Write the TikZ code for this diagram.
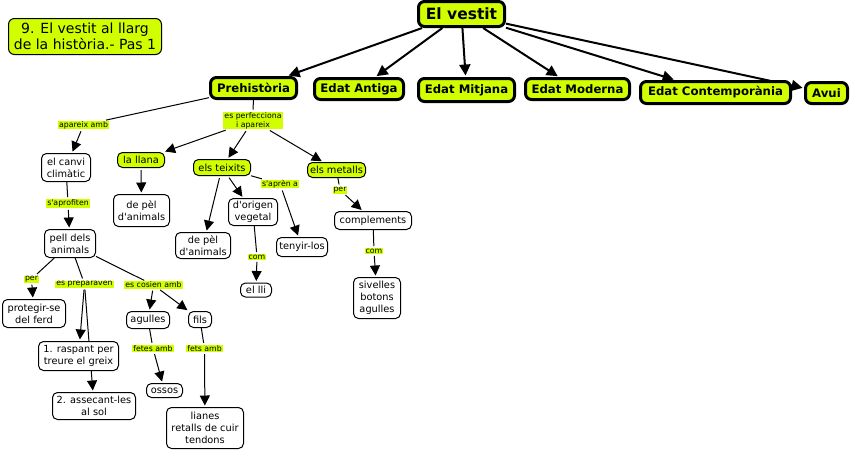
\documentclass[tikz,border=0pt]{standalone}
\usepackage{fontspec}
\setmainfont{DejaVu Sans}[Ligatures=TeXOff]
\usetikzlibrary{arrows.meta,backgrounds}
\definecolor{cmlime}{RGB}{210,255,0}
\begin{document}
\begin{tikzpicture}[x=1pt,y=-1pt,
 top/.style={draw,line width=3pt,fill=cmlime,rounded corners=6pt,font=\bfseries\fontsize{11.7}{14}\selectfont,inner sep=1pt},
 cn/.style={draw,line width=1pt,fill=white,rounded corners=5pt,font=\fontsize{9.8}{12}\selectfont,align=center,inner sep=1pt},
 yn/.style={cn,fill=cmlime},
 lbl/.style={fill=cmlime,font=\fontsize{7.8}{9}\selectfont,align=center,inner xsep=1pt,inner ysep=0.5pt},
 ln/.style={line width=1pt,shorten >=2pt},
 arr/.style={line width=1pt,-{Triangle[length=10pt,width=10pt]},shorten <=2pt,shorten >=1.5pt},
 tarr/.style={line width=2pt,-{Triangle[length=11pt,width=11pt]},shorten >=1.5pt},
]
\useasboundingbox (0,0) rectangle (850,451);

% title
\node[yn,font=\fontsize{14}{16.5}\selectfont,rounded corners=6pt,minimum width=153pt,minimum height=36pt] (title) at (85,36.5) {9. El vestit al llarg\\de la història.- Pas 1};

% top level
\node[top,font=\bfseries\fontsize{15.5}{18}\selectfont,minimum width=86pt,minimum height=25pt] (vestit) at (461.5,14) {El vestit};
\node[top,minimum width=86pt,minimum height=21pt] (preh) at (253.5,88) {Prehistòria};
\node[top,minimum width=89pt,minimum height=21pt] (antiga) at (359,89) {Edat Antiga};
\node[top,minimum width=96pt,minimum height=23pt] (mitjana) at (466.5,90) {Edat Mitjana};
\node[top,minimum width=104pt,minimum height=21pt] (moderna) at (577.5,89) {Edat Moderna};
\node[top,minimum width=150pt,minimum height=22pt] (contemp) at (715.5,92.5) {Edat Contemporània};
\node[top,minimum width=42pt,minimum height=21pt] (avui) at (826.5,93) {Avui};

% concepts
\node[cn,minimum width=49pt,minimum height=28pt] (canvi) at (66,167.5) {el canvi\\climàtic};
\node[cn,minimum width=51pt,minimum height=28pt] (pell) at (70,243.5) {pell dels\\animals};
\node[yn,minimum width=47pt,minimum height=15pt] (llana) at (141,160) {la llana};
\node[cn,minimum width=56pt,minimum height=32pt] (depel1) at (141.5,210.5) {de pèl\\d'animals};
\node[yn,minimum width=57pt,minimum height=16pt] (teixits) at (222,167.5) {els teixits};
\node[yn,minimum width=58pt,minimum height=15pt] (metalls) at (336.5,170) {els metalls};
\node[cn,minimum width=49pt,minimum height=27pt] (origen) at (253,212) {d'origen\\vegetal};
\node[cn,minimum width=55pt,minimum height=26pt] (depel2) at (203,245.5) {de pèl\\d'animals};
\node[cn,minimum width=51pt,minimum height=19pt] (tenyir) at (302,247) {tenyir-los};
\node[cn,minimum width=31pt,minimum height=14pt] (lli) at (256,290) {el lli};
\node[cn,minimum width=77pt,minimum height=18pt] (compl) at (373,220.5) {complements};
\node[cn,minimum width=47pt,minimum height=41pt] (sivelles) at (377,298) {sivelles\\botons\\agulles};
\node[cn,minimum width=63pt,minimum height=28pt] (protegir) at (34,313.5) {protegir-se\\del ferd};
\node[cn,minimum width=43pt,minimum height=17pt] (agulles) at (148,320) {agulles};
\node[cn,minimum width=23pt,minimum height=16pt] (fils) at (200,319.5) {fils};
\node[cn,minimum width=80pt,minimum height=29pt] (raspant) at (78.5,356) {1. raspant per\\treure el greix};
\node[cn,minimum width=83pt,minimum height=27pt] (assecant) at (94,406) {2. assecant-les\\al sol};
\node[cn,minimum width=36pt,minimum height=14pt] (ossos) at (164.5,390.5) {ossos};
\node[cn,minimum width=77pt,minimum height=41pt] (lianes) at (205,428) {lianes\\retalls de cuir\\tendons};

% link labels
\node[lbl] (l-apareix) at (83.5,125) {apareix amb};
\node[lbl] (l-aprofiten) at (68,203.5) {s'aprofiten};
\node[lbl] (l-perf) at (253,120.5) {es perfecciona\\i apareix};
\node[lbl] (l-apren) at (280,184) {s'aprèn a};
\node[lbl] (l-com1) at (257,257) {com};
\node[lbl] (l-per1) at (340,190) {per};
\node[lbl] (l-com2) at (374,251) {com};
\node[lbl] (l-per2) at (31.5,279) {per};
\node[lbl] (l-prep) at (84.5,284) {es preparaven};
\node[lbl] (l-cosien) at (153.5,285) {es cosien amb};
\node[lbl] (l-fetes) at (153,348.5) {fetes amb};
\node[lbl] (l-fets) at (204.5,348.5) {fets amb};

\begin{scope}[on background layer]
\fill[white] (0,0) rectangle (850,451);
% top arrows
\draw[tarr] (vestit) -- (preh);
\draw[tarr] (vestit) -- (antiga);
\draw[tarr] (vestit) -- (mitjana);
\draw[tarr] (vestit) -- (moderna);
\draw[tarr] (vestit) -- (contemp);
\draw[tarr] (vestit) -- (avui);
% prehistoria
\draw[ln] (preh) -- (l-apareix);
\draw[arr] (l-apareix) -- (canvi);
\draw[ln] (canvi) -- (l-aprofiten);
\draw[arr] (l-aprofiten) -- (pell);
\draw[ln] (preh) -- (l-perf);
\draw[arr] (l-perf) -- (llana);
\draw[arr] (l-perf) -- (teixits);
\draw[arr] (l-perf) -- (metalls);
\draw[arr] (llana) -- (depel1);
\draw[arr] (teixits) -- (depel2);
\draw[arr] (teixits) -- (origen);
\draw[ln] (teixits) -- (l-apren);
\draw[arr] (l-apren) -- (tenyir);
\draw[ln] (origen) -- (l-com1);
\draw[arr] (l-com1) -- (lli);
\draw[ln] (metalls) -- (l-per1);
\draw[arr] (l-per1) -- (compl);
\draw[ln] (compl) -- (l-com2);
\draw[arr] (l-com2) -- (sivelles);
\draw[ln] (pell) -- (l-per2);
\draw[arr] (l-per2) -- (protegir);
\draw[ln] (pell) -- (l-prep);
\draw[arr] (l-prep) -- (raspant);
\draw[arr] (l-prep) -- (assecant);
\draw[ln] (pell) -- (l-cosien);
\draw[arr] (l-cosien) -- (agulles);
\draw[arr] (l-cosien) -- (fils);
\draw[ln] (agulles) -- (l-fetes);
\draw[arr] (l-fetes) -- (ossos);
\draw[ln] (fils) -- (l-fets);
\draw[arr] (l-fets) -- (lianes);
\end{scope}
\end{tikzpicture}
\end{document}
